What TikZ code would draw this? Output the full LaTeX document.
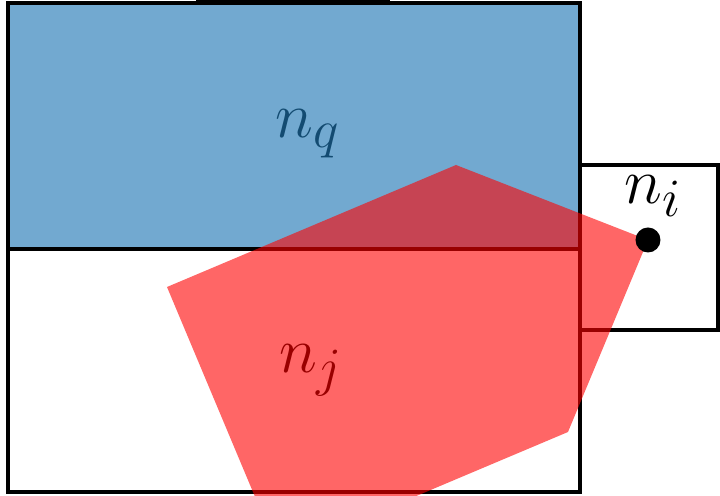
\documentclass[tikz,border=0pt]{standalone}
\usepackage{amsmath}
\definecolor{tabblue}{RGB}{31,119,180}
\begin{document}
\begin{tikzpicture}[x=0.5pt,y=-0.5pt,
  frame/.style={draw=black,line width=1.8pt},
  lbl/.style={font=\Huge,inner sep=0pt,scale=1.3}]
\useasboundingbox (0,0) rectangle (720,496);
\clip (0,0) rectangle (720,496);
% labels under the translucent fills
\node[lbl] (nq) at (308,134) {$n_q$};
\node[lbl] (nj) at (311,370) {$n_j$};
% blue region
\fill[tabblue,opacity=0.63] (8,3) rectangle (580,249);
% frames
\draw[frame] (198,-40) rectangle (388,2);
\draw[frame] (8,3) rectangle (580,249);
\draw[frame] (8,249) rectangle (580,492);
\draw[frame] (580,165) rectangle (718,330);
% red region
\coordinate (r1) at (167,287);
\coordinate (r2) at (456,165);
\coordinate (r3) at (648,240);
\coordinate (r4) at (568,432);
\coordinate (r5) at (279,554);
\fill[red,opacity=0.6] (r1) -- (r2) -- (r3) -- (r4) -- (r5) -- cycle;
% point n_i
\fill[black] (r3) circle (12.5);
\node[lbl] (ni) at (653,196) {$n_i$};
\end{tikzpicture}
\end{document}
